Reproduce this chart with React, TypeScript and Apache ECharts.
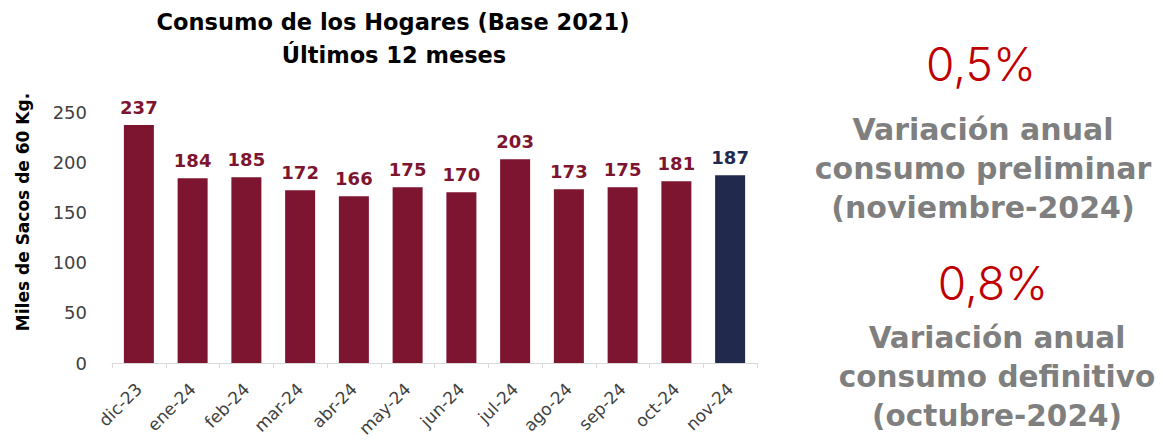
import React, { useEffect, useRef } from "react";
import * as echarts from "echarts";

const categories = ["dic-23", "ene-24", "feb-24", "mar-24", "abr-24", "may-24", "jun-24", "jul-24", "ago-24", "sep-24", "oct-24", "nov-24"];
const values = [237, 184, 185, 172, 166, 175, 170, 203, 173, 175, 181, 187];
const yTicks = [0, 50, 100, 150, 200, 250];
const titleLines = ["Consumo de los Hogares (Base 2021)", "Últimos 12 meses"];
const yAxisName = "Miles de Sacos de 60 Kg.";
const stat1 = { value: "0,5%", lines: ["Variación anual", "consumo preliminar", "(noviembre-2024)"] };
const stat2 = { value: "0,8%", lines: ["Variación anual", "consumo definitivo", "(octubre-2024)"] };

const MAROON = "#7E1530";
const NAVY = "#212A4C";
const FONT = "'DejaVu Sans', sans-serif";
const LIGHT = "Inter, 'Noto Sans', sans-serif";

export default function App() {
  const ref = useRef<HTMLDivElement>(null);
  useEffect(() => {
    if (!ref.current) return;
    document.body.style.margin = "0";
    const chart = echarts.init(ref.current, null, { renderer: "svg" });
    const last = values.length - 1;
    chart.setOption({
      animation: false,
      textStyle: { fontFamily: FONT },
      grid: { left: 112, right: 406, top: 112, bottom: 81, containLabel: false, outerBoundsMode: "none" },
      xAxis: {
        type: "category",
        data: categories,
        axisLine: { lineStyle: { color: "#D9D9D9", width: 1 } },
        axisTick: { show: true, length: 5, lineStyle: { color: "#D9D9D9" } },
        axisLabel: { rotate: 45, fontSize: 17, color: "#404040", margin: 23, fontFamily: FONT },
      },
      yAxis: {
        type: "value",
        min: 0,
        max: 250,
        interval: 50,
        axisLine: { show: false },
        axisTick: { show: false },
        splitLine: { show: false },
        axisLabel: {
          fontSize: 18,
          color: "#404040",
          margin: 25,
          fontFamily: FONT,
          formatter: (v: number) => (yTicks.includes(v) ? String(v) : ""),
        },
      },
      series: [
        {
          type: "bar",
          barWidth: 30,
          data: values.map((v, i) => ({
            value: v,
            itemStyle: { color: i === last ? NAVY : MAROON },
            label: { color: i === last ? NAVY : MAROON },
          })),
          label: {
            show: true,
            position: "top",
            distance: 9,
            fontSize: 18,
            fontWeight: "bold",
            fontFamily: FONT,
          },
        },
      ],
      graphic: [
        {
          type: "text",
          x: 393,
          y: 22,
          style: { text: titleLines[0], fontSize: 22.5, fontWeight: "bold", fill: "#000", textAlign: "center", textVerticalAlign: "middle", fontFamily: FONT },
        },
        {
          type: "text",
          x: 394,
          y: 55,
          style: { text: titleLines[1], fontSize: 22.5, fontWeight: "bold", fill: "#000", textAlign: "center", textVerticalAlign: "middle", fontFamily: FONT },
        },
        {
          type: "text",
          x: 23,
          y: 212,
          rotation: Math.PI / 2,
          style: { text: yAxisName, fontSize: 17, fontWeight: "bold", fill: "#000", textAlign: "center", textVerticalAlign: "middle", fontFamily: FONT },
        },
        {
          type: "text",
          x: 981,
          y: 64,
          style: { text: stat1.value, fontSize: 46, fontWeight: 300, fill: "#C00000", textAlign: "center", textVerticalAlign: "middle", fontFamily: LIGHT },
        },
        {
          type: "text",
          x: 983,
          y: 168,
          style: { text: stat1.lines.join("\n"), fontSize: 30, lineHeight: 39, fontWeight: "bold", fill: "#7F7F7F", textAlign: "center", textVerticalAlign: "middle", fontFamily: FONT },
        },
        {
          type: "text",
          x: 993,
          y: 283,
          style: { text: stat2.value, fontSize: 46, fontWeight: 300, fill: "#C00000", textAlign: "center", textVerticalAlign: "middle", fontFamily: LIGHT },
        },
        {
          type: "text",
          x: 997,
          y: 377,
          style: { text: stat2.lines.join("\n"), fontSize: 29.5, lineHeight: 39, fontWeight: "bold", fill: "#7F7F7F", textAlign: "center", textVerticalAlign: "middle", fontFamily: FONT },
        },
      ],
    });
    return () => chart.dispose();
  }, []);
  return <div ref={ref} style={{ width: 1163, height: 444 }} />;
}
